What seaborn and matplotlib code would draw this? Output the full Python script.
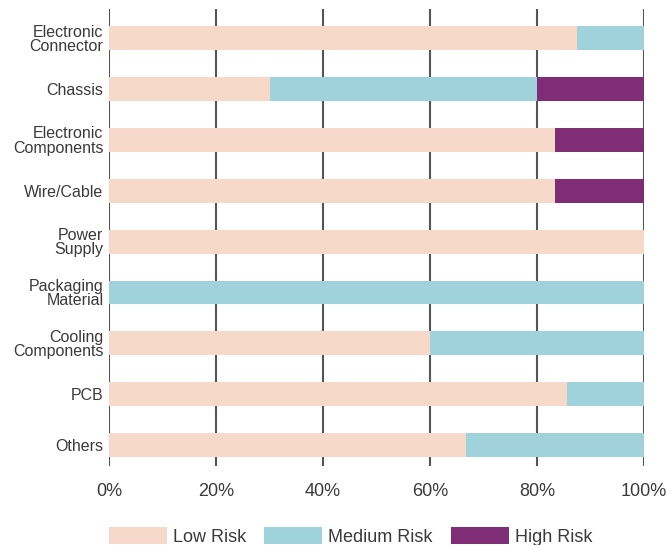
import numpy as np
import pandas as pd
import matplotlib
matplotlib.use('Agg')
import matplotlib.pyplot as plt
from matplotlib.patches import Patch
import seaborn as sns

categories = ['Electronic\nConnector', 'Chassis', 'Electronic\nComponents', 'Wire/Cable',
              'Power\nSupply', 'Packaging\nMaterial', 'Cooling\nComponents', 'PCB', 'Others']
low_risk = [87.5, 30.0, 83.3, 83.3, 100.0, 0.0, 60.0, 85.7, 66.7]
medium_risk = [12.5, 50.0, 0.0, 0.0, 0.0, 100.0, 40.0, 14.3, 33.3]
high_risk = [0.0, 20.0, 16.7, 16.7, 0.0, 0.0, 0.0, 0.0, 0.0]
x_ticks = [0, 20, 40, 60, 80, 100]

colors = {'Low Risk': '#F7D9CA', 'Medium Risk': '#A0D2DC', 'High Risk': '#7F2D74'}

df = pd.DataFrame({'category': categories, 'low': low_risk,
                   'medium': medium_risk, 'high': high_risk})
df['low_med'] = df['low'] + df['medium']
df['total'] = df['low_med'] + df['high']

sns.set_style('white')
plt.rcParams['font.family'] = ['Liberation Sans', 'DejaVu Sans']

fig = plt.figure(figsize=(6.71, 5.45), dpi=100)
ax = fig.add_axes([109 / 671, 1 - 466 / 545, 535 / 671, 457 / 545])

# stacked bars: draw cumulative totals back to front
for col, name in [('total', 'High Risk'), ('low_med', 'Medium Risk'), ('low', 'Low Risk')]:
    sns.barplot(data=df, x=col, y='category', order=categories, color=colors[name],
                width=0.47, saturation=1, ax=ax, linewidth=0, zorder=2)

ax.set_xlim(0, 100)
ax.set_ylim(8 + 0.41, -0.57)
ax.set_xticks(x_ticks)
ax.set_xticklabels([f'{t}%' for t in x_ticks])
ax.set_xlabel('')
ax.set_ylabel('')
for s in ax.spines.values():
    s.set_visible(False)
ax.grid(False)
for t in x_ticks:
    ax.axvline(t, color='#555555', lw=1.5, zorder=1)
ax.tick_params(axis='x', length=0, pad=12, labelsize=13, labelcolor='#3a3a3a')
ax.tick_params(axis='y', length=0, pad=4, labelsize=11.5, labelcolor='#3a3a3a')
for lab in ax.get_yticklabels():
    lab.set_linespacing(0.95)
    lab.set_multialignment('right')

handles = [Patch(facecolor=c, edgecolor='none', label=n) for n, c in colors.items()]
fig.legend(handles=handles, loc='upper left', bbox_to_anchor=(109 / 671, 1 - 527 / 545),
           ncol=3, frameon=False, fontsize=13, handlelength=3.2, handleheight=1.1,
           handletextpad=0.35, columnspacing=1.0, borderpad=0, borderaxespad=0,
           labelcolor='#3a3a3a')

fig.savefig('out.png', dpi=100)
